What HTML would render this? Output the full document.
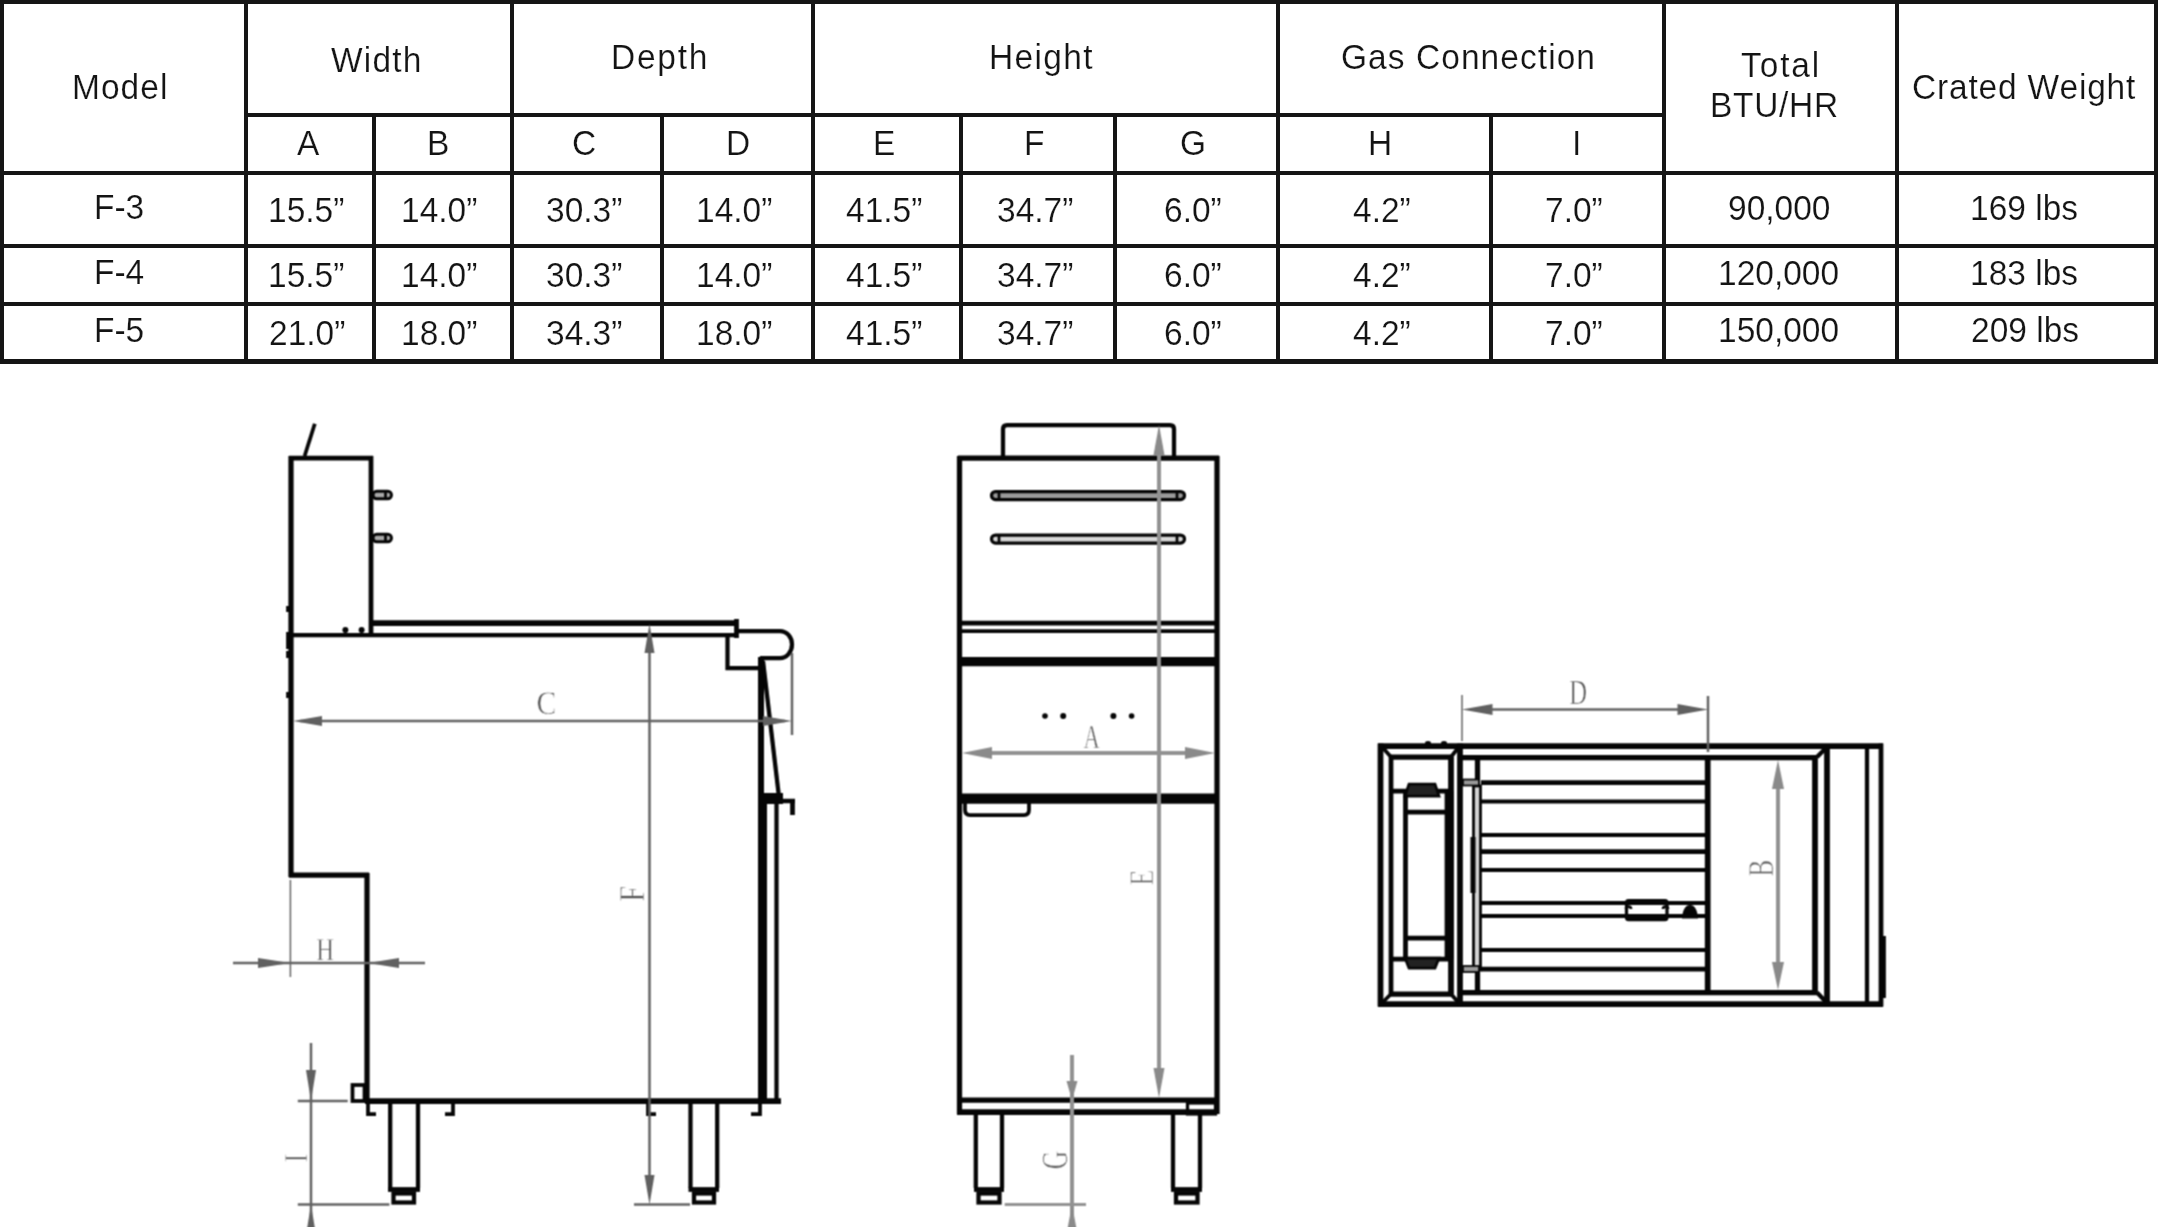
<!DOCTYPE html>
<html><head><meta charset="utf-8"><style>
html,body{margin:0;padding:0;background:#fff;}
body{width:2158px;height:1227px;position:relative;overflow:hidden;font-family:"Liberation Sans",sans-serif;}
.l{position:absolute;background:#151515;}
.t{position:absolute;line-height:1;white-space:nowrap;color:#141414;will-change:transform;-webkit-text-stroke:0.2px #fff;}
svg{position:absolute;left:0;top:0;will-change:transform;}
</style></head><body>
<div class="l" style="left:0px;top:0px;width:2158px;height:4px"></div>
<div class="l" style="left:0px;top:171px;width:2158px;height:4px"></div>
<div class="l" style="left:0px;top:244px;width:2158px;height:4px"></div>
<div class="l" style="left:0px;top:302px;width:2158px;height:4px"></div>
<div class="l" style="left:0px;top:359px;width:2158px;height:5px"></div>
<div class="l" style="left:244px;top:113px;width:1422px;height:4px"></div>
<div class="l" style="left:0px;top:0px;width:4px;height:364px"></div>
<div class="l" style="left:244px;top:0px;width:4px;height:364px"></div>
<div class="l" style="left:372px;top:113px;width:4px;height:251px"></div>
<div class="l" style="left:510px;top:0px;width:4px;height:364px"></div>
<div class="l" style="left:660px;top:113px;width:4px;height:251px"></div>
<div class="l" style="left:811px;top:0px;width:4px;height:364px"></div>
<div class="l" style="left:959px;top:113px;width:4px;height:251px"></div>
<div class="l" style="left:1113px;top:113px;width:4px;height:251px"></div>
<div class="l" style="left:1276px;top:0px;width:4px;height:364px"></div>
<div class="l" style="left:1489px;top:113px;width:4px;height:251px"></div>
<div class="l" style="left:1662px;top:0px;width:4px;height:364px"></div>
<div class="l" style="left:1895px;top:0px;width:4px;height:364px"></div>
<div class="l" style="left:2154px;top:0px;width:4px;height:364px"></div>
<div class="t" style="left:71.9px;top:70.9px;font-size:33.5px;letter-spacing:1.02px;transform-origin:0 28.0px;transform:scaleY(1.040)">Model</div>
<div class="t" style="left:330.9px;top:44.0px;font-size:33.5px;letter-spacing:1.18px;transform-origin:0 28.0px;transform:scaleY(1.040)">Width</div>
<div class="t" style="left:611.0px;top:41.4px;font-size:33.5px;letter-spacing:1.75px;transform-origin:0 28.0px;transform:scaleY(1.040)">Depth</div>
<div class="t" style="left:989.4px;top:41.3px;font-size:33.5px;letter-spacing:1.32px;transform-origin:0 28.0px;transform:scaleY(1.040)">Height</div>
<div class="t" style="left:1340.7px;top:41.3px;font-size:33.5px;letter-spacing:1.06px;transform-origin:0 28.0px;transform:scaleY(1.040)">Gas Connection</div>
<div class="t" style="left:1740.9px;top:48.8px;font-size:33.5px;letter-spacing:1.88px;transform-origin:0 28.0px;transform:scaleY(1.040)">Total</div>
<div class="t" style="left:1710.4px;top:89.0px;font-size:33.5px;letter-spacing:0.70px;transform-origin:0 28.0px;transform:scaleY(1.040)">BTU/HR</div>
<div class="t" style="left:1911.8px;top:71.0px;font-size:33.5px;letter-spacing:0.82px;transform-origin:0 28.0px;transform:scaleY(1.040)">Crated Weight</div>
<div class="t" style="left:296.5px;top:127.0px;font-size:33.5px;letter-spacing:0.00px;transform-origin:0 28.0px;transform:scaleY(1.040)">A</div>
<div class="t" style="left:426.8px;top:127.0px;font-size:33.5px;letter-spacing:0.00px;transform-origin:0 28.0px;transform:scaleY(1.040)">B</div>
<div class="t" style="left:571.7px;top:127.0px;font-size:33.5px;letter-spacing:0.00px;transform-origin:0 28.0px;transform:scaleY(1.040)">C</div>
<div class="t" style="left:726.0px;top:127.0px;font-size:33.5px;letter-spacing:0.00px;transform-origin:0 28.0px;transform:scaleY(1.040)">D</div>
<div class="t" style="left:873.0px;top:127.0px;font-size:33.5px;letter-spacing:0.00px;transform-origin:0 28.0px;transform:scaleY(1.040)">E</div>
<div class="t" style="left:1024.0px;top:127.0px;font-size:33.5px;letter-spacing:0.00px;transform-origin:0 28.0px;transform:scaleY(1.040)">F</div>
<div class="t" style="left:1179.9px;top:127.0px;font-size:33.5px;letter-spacing:0.00px;transform-origin:0 28.0px;transform:scaleY(1.040)">G</div>
<div class="t" style="left:1367.9px;top:127.0px;font-size:33.5px;letter-spacing:0.00px;transform-origin:0 28.0px;transform:scaleY(1.040)">H</div>
<div class="t" style="left:1571.5px;top:127.0px;font-size:33.5px;letter-spacing:0.00px;transform-origin:0 28.0px;transform:scaleY(1.040)">I</div>
<div class="t" style="left:93.5px;top:191.3px;font-size:33.5px;letter-spacing:0.00px;transform-origin:0 28.0px;transform:scaleY(1.040)">F-3</div>
<div class="t" style="left:268.0px;top:193.7px;font-size:33.5px;letter-spacing:0.00px;transform-origin:0 28.0px;transform:scaleY(1.040)">15.5”</div>
<div class="t" style="left:401.0px;top:193.7px;font-size:33.5px;letter-spacing:0.00px;transform-origin:0 28.0px;transform:scaleY(1.040)">14.0”</div>
<div class="t" style="left:546.0px;top:193.7px;font-size:33.5px;letter-spacing:0.00px;transform-origin:0 28.0px;transform:scaleY(1.040)">30.3”</div>
<div class="t" style="left:695.5px;top:193.7px;font-size:33.5px;letter-spacing:0.00px;transform-origin:0 28.0px;transform:scaleY(1.040)">14.0”</div>
<div class="t" style="left:846.0px;top:193.7px;font-size:33.5px;letter-spacing:0.00px;transform-origin:0 28.0px;transform:scaleY(1.040)">41.5”</div>
<div class="t" style="left:997.0px;top:193.7px;font-size:33.5px;letter-spacing:0.00px;transform-origin:0 28.0px;transform:scaleY(1.040)">34.7”</div>
<div class="t" style="left:1164.0px;top:193.7px;font-size:33.5px;letter-spacing:0.00px;transform-origin:0 28.0px;transform:scaleY(1.040)">6.0”</div>
<div class="t" style="left:1352.5px;top:193.7px;font-size:33.5px;letter-spacing:0.00px;transform-origin:0 28.0px;transform:scaleY(1.040)">4.2”</div>
<div class="t" style="left:1545.0px;top:193.7px;font-size:33.5px;letter-spacing:0.00px;transform-origin:0 28.0px;transform:scaleY(1.040)">7.0”</div>
<div class="t" style="left:1727.5px;top:192.3px;font-size:33.5px;letter-spacing:0.00px;transform-origin:0 28.0px;transform:scaleY(1.040)">90,000</div>
<div class="t" style="left:1970.0px;top:192.3px;font-size:33.5px;letter-spacing:0.00px;transform-origin:0 28.0px;transform:scaleY(1.040)">169 lbs</div>
<div class="t" style="left:93.5px;top:256.4px;font-size:33.5px;letter-spacing:0.00px;transform-origin:0 28.0px;transform:scaleY(1.040)">F-4</div>
<div class="t" style="left:268.0px;top:258.9px;font-size:33.5px;letter-spacing:0.00px;transform-origin:0 28.0px;transform:scaleY(1.040)">15.5”</div>
<div class="t" style="left:401.0px;top:258.9px;font-size:33.5px;letter-spacing:0.00px;transform-origin:0 28.0px;transform:scaleY(1.040)">14.0”</div>
<div class="t" style="left:546.0px;top:258.9px;font-size:33.5px;letter-spacing:0.00px;transform-origin:0 28.0px;transform:scaleY(1.040)">30.3”</div>
<div class="t" style="left:695.5px;top:258.9px;font-size:33.5px;letter-spacing:0.00px;transform-origin:0 28.0px;transform:scaleY(1.040)">14.0”</div>
<div class="t" style="left:846.0px;top:258.9px;font-size:33.5px;letter-spacing:0.00px;transform-origin:0 28.0px;transform:scaleY(1.040)">41.5”</div>
<div class="t" style="left:997.0px;top:258.9px;font-size:33.5px;letter-spacing:0.00px;transform-origin:0 28.0px;transform:scaleY(1.040)">34.7”</div>
<div class="t" style="left:1164.0px;top:258.9px;font-size:33.5px;letter-spacing:0.00px;transform-origin:0 28.0px;transform:scaleY(1.040)">6.0”</div>
<div class="t" style="left:1352.5px;top:258.9px;font-size:33.5px;letter-spacing:0.00px;transform-origin:0 28.0px;transform:scaleY(1.040)">4.2”</div>
<div class="t" style="left:1545.0px;top:258.9px;font-size:33.5px;letter-spacing:0.00px;transform-origin:0 28.0px;transform:scaleY(1.040)">7.0”</div>
<div class="t" style="left:1717.5px;top:257.2px;font-size:33.5px;letter-spacing:0.00px;transform-origin:0 28.0px;transform:scaleY(1.040)">120,000</div>
<div class="t" style="left:1970.0px;top:257.2px;font-size:33.5px;letter-spacing:0.00px;transform-origin:0 28.0px;transform:scaleY(1.040)">183 lbs</div>
<div class="t" style="left:93.5px;top:314.1px;font-size:33.5px;letter-spacing:0.00px;transform-origin:0 28.0px;transform:scaleY(1.040)">F-5</div>
<div class="t" style="left:268.5px;top:316.5px;font-size:33.5px;letter-spacing:0.00px;transform-origin:0 28.0px;transform:scaleY(1.040)">21.0”</div>
<div class="t" style="left:401.0px;top:316.5px;font-size:33.5px;letter-spacing:0.00px;transform-origin:0 28.0px;transform:scaleY(1.040)">18.0”</div>
<div class="t" style="left:546.0px;top:316.5px;font-size:33.5px;letter-spacing:0.00px;transform-origin:0 28.0px;transform:scaleY(1.040)">34.3”</div>
<div class="t" style="left:695.5px;top:316.5px;font-size:33.5px;letter-spacing:0.00px;transform-origin:0 28.0px;transform:scaleY(1.040)">18.0”</div>
<div class="t" style="left:846.0px;top:316.5px;font-size:33.5px;letter-spacing:0.00px;transform-origin:0 28.0px;transform:scaleY(1.040)">41.5”</div>
<div class="t" style="left:997.0px;top:316.5px;font-size:33.5px;letter-spacing:0.00px;transform-origin:0 28.0px;transform:scaleY(1.040)">34.7”</div>
<div class="t" style="left:1164.0px;top:316.5px;font-size:33.5px;letter-spacing:0.00px;transform-origin:0 28.0px;transform:scaleY(1.040)">6.0”</div>
<div class="t" style="left:1352.5px;top:316.5px;font-size:33.5px;letter-spacing:0.00px;transform-origin:0 28.0px;transform:scaleY(1.040)">4.2”</div>
<div class="t" style="left:1545.0px;top:316.5px;font-size:33.5px;letter-spacing:0.00px;transform-origin:0 28.0px;transform:scaleY(1.040)">7.0”</div>
<div class="t" style="left:1717.5px;top:314.4px;font-size:33.5px;letter-spacing:0.00px;transform-origin:0 28.0px;transform:scaleY(1.040)">150,000</div>
<div class="t" style="left:1970.5px;top:314.4px;font-size:33.5px;letter-spacing:0.00px;transform-origin:0 28.0px;transform:scaleY(1.040)">209 lbs</div>
<svg width="2158" height="1227" viewBox="0 0 2158 1227">
<defs><style>
.k{stroke:#050505;fill:none;stroke-linecap:butt;stroke-linejoin:miter}
.g{stroke:#626262;fill:none;stroke-width:2.5}
.g2{stroke:#929292;fill:none;stroke-width:4}
.ga2{fill:#8a8a8a;stroke:none}
.ga{fill:#606060;stroke:none}
.lb{font-family:"Liberation Serif",serif;fill:#6a6a6a;font-size:30px}
</style>
<filter id="bl" color-interpolation-filters="sRGB" filterUnits="userSpaceOnUse" x="0" y="380" width="2158" height="847"><feConvolveMatrix order="3" kernelMatrix="1 2 1 2 4 2 1 2 1" divisor="16" edgeMode="none"/></filter></defs>
<g filter="url(#bl)">
<!-- ============ SIDE VIEW ============ -->
<g class="k">
<path d="M314.8,423.8 L304.6,456" stroke-width="3.75"/>
<path d="M289,458 H373" stroke-width="4.75"/>
<path d="M291,456 V877" stroke-width="5.25"/>
<path d="M289,875 H369" stroke-width="5.25"/>
<path d="M367,873 V1103" stroke-width="5.25"/>
<path d="M371,456 V637" stroke-width="4.75"/>
<path d="M371,623 H738" stroke-width="5.75"/>
<path d="M291,635 H737" stroke-width="4.25"/>
<path d="M736.5,619 V638" stroke-width="4.75"/>
<path d="M736,631 H780 A12,13.5 0 0 1 780,658 H760" stroke-width="4.25"/>
<path d="M727.5,637 V668 H761" stroke-width="4.25"/>
<path d="M761,657 V796" stroke-width="6"/>
<path d="M762.5,796 V1101" stroke-width="9"/>
<path d="M776.5,795 V1101" stroke-width="4.25"/>
<path d="M763,661 L779,797" stroke-width="4.25"/>
<path d="M758,798.5 H783" stroke-width="11"/>
<path d="M779,801 H795" stroke-width="4.5"/>
<path d="M792.5,799 V815" stroke-width="4.75"/>
<path d="M365,1101 H781" stroke-width="5.75"/>
<rect x="352.5" y="1085" width="12" height="16" stroke-width="3.75"/>
<path d="M368,1103 V1114 H376" stroke-width="3.75"/>
<path d="M453,1103 V1114 H445" stroke-width="3.75"/>
<path d="M648,1103 V1114 H656" stroke-width="3.75"/>
<path d="M760,1103 V1114 H751" stroke-width="3.75"/>
<path d="M390.2,1103 V1188 M418,1103 V1188" stroke-width="4.25"/>
<path d="M388,1189.5 H420" stroke-width="4.75"/>
<rect x="393.5" y="1193.5" width="20.5" height="9" stroke-width="4.25"/>
<path d="M690.5,1103 V1188 M717.2,1103 V1188" stroke-width="4.25"/>
<path d="M688.5,1189.5 H719" stroke-width="4.75"/>
<rect x="694" y="1193.5" width="20" height="9" stroke-width="4.25"/>
</g>
<path d="M288,606 V612 M288,632 V649 M288,651 V658 M288,692 V698" stroke="#050505" stroke-width="3.75"/>
<circle cx="345.4" cy="630" r="3" fill="#050505"/>
<circle cx="361.6" cy="630" r="3" fill="#050505"/>
<g stroke="#050505" stroke-width="2.95" fill="#a8a8a8">
<rect x="373" y="491.3" width="18.5" height="7.5" rx="3.75"/>
<rect x="373" y="534.3" width="18.5" height="7.5" rx="3.75"/>
</g>
<path d="M385.5,491 V499 M385.5,534 V542" stroke="#050505" stroke-width="2.75"/>
<!-- dims side -->
<g class="g">
<path d="M300,721 H785"/>
<path d="M792,653 V735"/>
<path d="M649.5,640 V1195"/>
<path d="M634,1204.5 H690"/>
<path d="M233,963 H425"/>
<path d="M290.4,880 V977" stroke-width="1.5"/>
<path d="M311,1043 V1227"/>
<path d="M297.8,1101 H347.7"/>
<path d="M297.8,1204.5 H389.4"/>
</g>
<g class="ga">
<polygon points="293,721 322,716 322,726"/>
<polygon points="792,721 763,716 763,726"/>
<polygon points="649.5,624 644.5,653 654.5,653"/>
<polygon points="649.5,1204.5 644.5,1175 654.5,1175"/>
<polygon points="290.4,963 258,958 258,968"/>
<polygon points="368,963 399,958 399,968"/>
<polygon points="311,1101 306,1070 316,1070"/>
<polygon points="311,1204.5 306,1235 316,1235"/>
</g>
<!-- ============ FRONT VIEW ============ -->
<g class="k">
<path d="M1003,458 V429 Q1003,425 1007,425 H1170 Q1174,425 1174,429 V458" stroke-width="4.25"/>
<path d="M958,458 H1219" stroke-width="5.25"/>
<path d="M959.5,456 V1114" stroke-width="5.25"/>
<path d="M1217,456 V1114" stroke-width="5.25"/>
<path d="M958,623 H1219" stroke-width="4.75"/>
<path d="M958,631 H1219" stroke-width="3.75"/>
<path d="M958,661.5 H1219" stroke-width="9.25"/>
<path d="M958,798.5 H1219" stroke-width="10.25"/>
<path d="M965,803 V810 Q965,815 970,815 H1024 Q1029,815 1029,810 V803" stroke-width="3.75"/>
<path d="M958,1100 H1219" stroke-width="5.25"/>
<path d="M957,1112 H1217" stroke-width="5.75"/>
<rect x="1187.5" y="1103" width="28" height="11" stroke-width="3.25"/>
<path d="M975.8,1114 V1188 M1002,1114 V1188" stroke-width="4.25"/>
<path d="M974,1189.5 H1004" stroke-width="4.75"/>
<rect x="978.5" y="1193.5" width="21" height="9" stroke-width="4.25"/>
<path d="M1173,1114 V1188 M1200,1114 V1188" stroke-width="4.25"/>
<path d="M1171,1189.5 H1202" stroke-width="4.75"/>
<rect x="1176" y="1193.5" width="21.5" height="9" stroke-width="4.25"/>
</g>
<g stroke="#050505" stroke-width="3.25">
<rect x="991.5" y="491.5" width="193" height="8" rx="4" fill="#9a9a9a"/>
<rect x="991.5" y="535" width="193" height="8" rx="4" fill="#d8d8d8"/>
</g>
<path d="M999,491 V500 M1177,491 V500 M999,535 V543 M1177,535 V543" stroke="#050505" stroke-width="2.75"/>
<g fill="#050505">
<circle cx="1045" cy="716" r="2.8"/><circle cx="1063.2" cy="716" r="3"/>
<circle cx="1113.4" cy="716" r="3"/><circle cx="1131.6" cy="716" r="2.8"/>
</g>
<g class="g2">
<path d="M1159,445 V1080"/>
<path d="M985,753 H1195"/>
<path d="M1072,1055 V1227"/>
<path d="M1004.7,1204.4 H1086" stroke-width="3"/>
</g>
<g class="ga2">
<polygon points="1159,425 1153.5,455 1164.5,455"/>
<polygon points="1159,1098 1153.5,1068 1164.5,1068"/>
<polygon points="962,753 992,747 992,759"/>
<polygon points="1215,753 1185,747 1185,759"/>
<polygon points="1072,1100 1066.5,1081 1077.5,1081"/>
<polygon points="1072,1204.4 1066.5,1234 1077.5,1234"/>
</g>
<!-- ============ TOP VIEW ============ -->
<g class="k">
<path d="M1378,746 H1883" stroke-width="5.75"/>
<path d="M1378,1004 H1883" stroke-width="5.75"/>
<path d="M1380.5,743.5 V1006.5" stroke-width="5.75"/>
<path d="M1881,743.5 V1006.5" stroke-width="4.75"/>
<path d="M1391,757 V994" stroke-width="4.75"/>
<path d="M1451,757 V994" stroke-width="5.75"/>
<path d="M1389,757 H1453" stroke-width="5.25"/>
<path d="M1389,994 H1453" stroke-width="5.25"/>
<path d="M1383,748 L1391,757 M1458,748 L1451,757 M1383,1002 L1391,994 M1458,1002 L1451,994" stroke-width="3.75"/>
<path d="M1460,743.5 V1006.5" stroke-width="5.75"/>
<path d="M1460,757.5 H1817" stroke-width="5.25"/>
<path d="M1460,992.5 H1817" stroke-width="5.25"/>
<path d="M1477.5,757 V786 M1477.5,970 V994" stroke-width="5.25"/>
<path d="M1481,782.5 H1706 M1481,851.5 H1706 M1481,969 H1706" stroke-width="4.75"/>
<path d="M1481,801.5 H1706 M1481,835 H1706 M1481,870 H1706 M1481,903 H1706 M1481,916 H1706 M1481,950 H1706" stroke-width="4"/>
<path d="M1707.7,757 V992.5" stroke-width="5.75"/>
<path d="M1815,757 V992.5" stroke-width="5.75"/>
<path d="M1817,757 L1827,747 M1817,992.5 L1827,1003" stroke-width="4.25"/>
<path d="M1827,746 V1004" stroke-width="5.75"/>
<path d="M1867,746 V1004" stroke-width="4.25"/>
<path d="M1882.5,936 V998" stroke-width="6.75"/>
<rect x="1626.5" y="900.5" width="40.5" height="19" rx="2" stroke-width="3.25"/>
<path d="M1390,791 H1453" stroke-width="4.75"/>
<path d="M1405.5,791 V959" stroke-width="4.75"/>
<path d="M1449,791 V959" stroke-width="8.75"/>
<path d="M1405,812 H1447 M1405,938 H1447" stroke-width="4.75"/>
<path d="M1390,959 H1453" stroke-width="4.75"/>
<path d="M1405,796 L1409,784 H1435 L1439,796 Z" stroke-width="2.75" fill="#222"/>
<path d="M1405,958 L1409,968 H1435 L1439,958 Z" stroke-width="2.75" fill="#222"/>
</g>
<rect x="1473.5" y="786" width="7" height="184" fill="#d4d4d4" stroke="#050505" stroke-width="2.75"/>
<rect x="1470.5" y="837" width="5" height="56" fill="#050505"/>
<rect x="1463" y="779.5" width="16" height="6" fill="#9a9a9a" stroke="#050505" stroke-width="1.75"/>
<rect x="1463" y="966" width="16" height="6" fill="#9a9a9a" stroke="#050505" stroke-width="1.75"/>
<path d="M1682,918.5 Q1683,905 1690,905 Q1697,905 1698,918.5 Z" fill="#050505"/>
<path d="M1626,909 a2.5,2.5 0 0 1 5,0 M1668,909 a2.5,2.5 0 0 0 -5,0" stroke="#050505" stroke-width="2.75" fill="none"/>
<ellipse cx="1428" cy="743" rx="3" ry="2" fill="#050505"/>
<ellipse cx="1444" cy="743" rx="3" ry="2" fill="#050505"/>
<g class="g">
<path d="M1480,709.4 H1690"/>
<path d="M1462,695 V741" stroke-width="1.5"/>
<path d="M1708,696 V752"/>
</g>
<path d="M1778,775 V975" class="g2" stroke-width="5"/>
<g class="ga">
<polygon points="1462,709.4 1492.5,704 1492.5,715"/>
<polygon points="1708,709.4 1677.5,704 1677.5,715"/>
<polygon class="ga2" points="1778,760 1772,789 1784,789"/>
<polygon class="ga2" points="1778,990 1772,962 1784,962"/>
</g>
<g font-family="Liberation Serif" style="text-rendering:geometricPrecision"><text transform="translate(546.20,703.60) scale(0.905,1)" x="-10.71" y="10.87" font-size="32.94" fill="#505050" stroke="#fff" stroke-width="0.7">C</text>
<text transform="translate(325.00,949.50) scale(0.771,1)" x="-11.45" y="10.50" font-size="31.82" fill="#505050" stroke="#fff" stroke-width="0.7">H</text>
<text transform="translate(1091.70,737.00) scale(0.676,1)" x="-12.17" y="11.33" font-size="33.33" fill="#5a5a5a" stroke="#fff" stroke-width="0.7">A</text>
<text transform="translate(1578.00,692.20) scale(0.700,1)" x="-12.48" y="11.60" font-size="35.15" fill="#505050" stroke="#fff" stroke-width="0.7">D</text>
<text transform="translate(631.50,894.00) rotate(-90) scale(0.786,1)" x="-10.00" y="12.00" font-size="36.36" fill="#505050" stroke="#fff" stroke-width="0.7">F</text>
<text transform="translate(1141.90,877.90) rotate(-90) scale(0.748,1)" x="-10.19" y="11.40" font-size="34.55" fill="#5a5a5a" stroke="#fff" stroke-width="0.7">E</text>
<text transform="translate(1055.10,1160.00) rotate(-90) scale(0.695,1)" x="-13.42" y="12.13" font-size="36.76" fill="#5a5a5a" stroke="#fff" stroke-width="0.7">G</text>
<text transform="translate(296.00,1158.00) rotate(-90) scale(0.750,1)" x="-5.67" y="11.00" font-size="33.33" fill="#505050" stroke="#fff" stroke-width="0.7">I</text>
<text transform="translate(1761.30,868.30) rotate(-90) scale(0.685,1)" x="-11.82" y="12.00" font-size="36.36" fill="#5a5a5a" stroke="#fff" stroke-width="0.7">B</text></g>
</g>
</svg>

</body></html>
